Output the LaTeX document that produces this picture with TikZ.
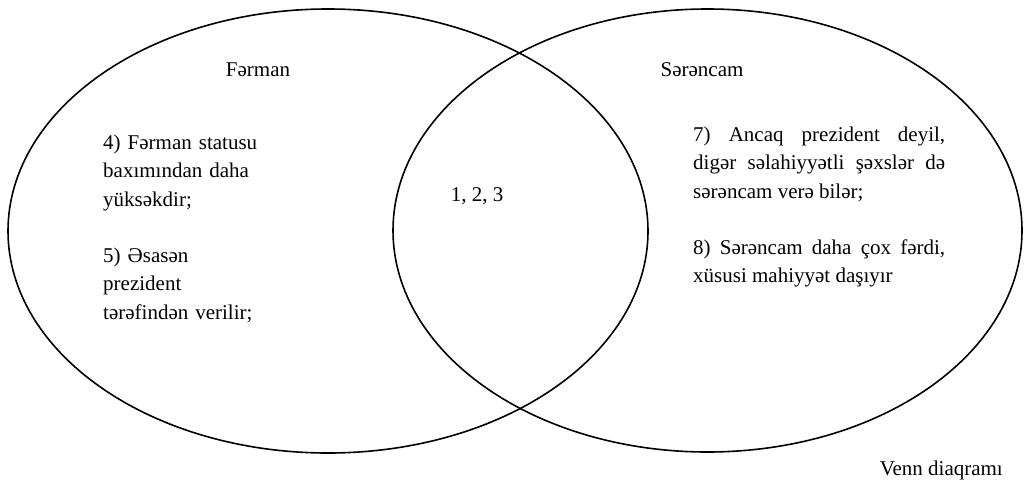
\documentclass[tikz,border=0pt]{standalone}
\usepackage{fontspec}
\setmainfont{Liberation Serif}
\begin{document}
\begin{tikzpicture}[x=1pt,y=-1pt,
  venn/.style={draw=black,line width=1.6pt},
  lbl/.style={inner sep=0pt,font=\fontsize{21}{28.7}\selectfont},
  blockL/.style={lbl,anchor=base west,text width=200pt,align=left},
  blockR/.style={lbl,anchor=base west,text width=252pt,align=justify}]
\useasboundingbox (0,0) rectangle (1030,479);
\draw[venn] (328,231) ellipse [x radius=320pt, y radius=222pt];
\draw[venn] (707.5,230.5) ellipse [x radius=314.5pt, y radius=221.5pt];
\node[lbl,anchor=base] (ferman) at (258,76) {Fərman};
\node[lbl,anchor=base] (serencam) at (702,76) {Sərəncam};
\node[lbl,anchor=base] (common) at (477,201) {1, 2, 3};
\node[blockL] (l4) at (103,149) {4) Fərman statusu\\baxımından daha\\yüksəkdir;};
\node[blockL] (l5) at (103,262) {5) Əsasən\\prezident\\tərəfindən verilir;};
\node[blockR] (r7) at (693,141) {7) Ancaq prezident deyil,\linebreak digər səlahiyyətli şəxslər də\linebreak sərəncam verə bilər;};
\node[blockR] (r8) at (693,254) {8) Sərəncam daha çox fərdi,\linebreak xüsusi mahiyyət daşıyır};
\node[lbl,anchor=base east] (venn) at (1003,475) {Venn diaqramı};
\end{tikzpicture}
\end{document}
